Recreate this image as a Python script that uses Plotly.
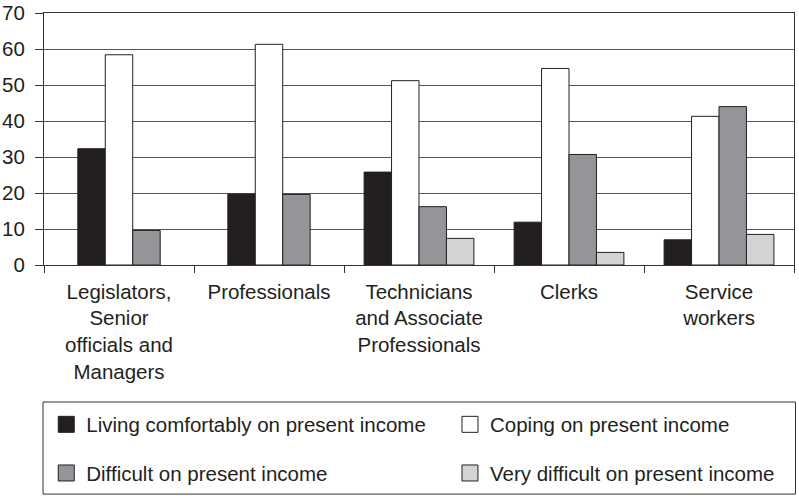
import plotly.graph_objects as go

categories = [
    "Legislators,<br>Senior<br>officials and<br>Managers",
    "Professionals",
    "Technicians<br>and Associate<br>Professionals",
    "Clerks",
    "Service<br>workers",
]
series_names = [
    "Living comfortably on present income",
    "Coping on present income",
    "Difficult on present income",
    "Very difficult on present income",
]
living = [32.3, 19.7, 25.8, 11.9, 7.0]
coping = [58.4, 61.3, 51.2, 54.6, 41.3]
difficult = [9.6, 19.6, 16.2, 30.7, 44.0]
very_difficult = [None, None, 7.4, 3.5, 8.5]
y_ticks = [0, 10, 20, 30, 40, 50, 60, 70]

series_values = [living, coping, difficult, very_difficult]
colors = ["#231f20", "#ffffff", "#939598", "#d1d3d4"]
edge = "#231f20"
FONT = "Liberation Sans, Arial, sans-serif"
FS = 20.5
bar_w = 0.183

fig = go.Figure()
for si, (name, vals, col) in enumerate(zip(series_names, series_values, colors)):
    offsets = []
    for ci in range(len(categories)):
        present = [k for k in range(len(series_values)) if series_values[k][ci] is not None]
        n = len(present)
        k = present.index(si) if si in present else 0
        offsets.append(-n * bar_w / 2 + k * bar_w)
    fig.add_trace(go.Bar(
        x=categories, y=vals, name=name, width=bar_w, offset=offsets,
        marker=dict(color=col, line=dict(color=edge, width=1)),
        showlegend=False,
    ))

# legend entries (one legend per entry for exact placement)
leg_pos = [(0.0030, -0.633), (0.5413, -0.633), (0.0030, -0.826), (0.5413, -0.826)]
leg_ids = ["legend", "legend2", "legend3", "legend4"]
for name, col, lid in zip(series_names, colors, leg_ids):
    fig.add_trace(go.Scatter(
        x=[None], y=[None], mode="markers", name=name, legend=lid,
        marker=dict(symbol="square", size=16, color=col, line=dict(color=edge, width=1)),
        showlegend=True,
    ))

legend_layouts = {}
for lid, (lx, ly) in zip(leg_ids, leg_pos):
    legend_layouts[lid] = dict(
        x=lx, y=ly, xanchor="left", yanchor="middle", orientation="h",
        font=dict(family=FONT, size=FS, color="#231f20"),
        bgcolor="rgba(0,0,0,0)", borderwidth=0,
    )

fig.update_layout(
    width=799, height=496,
    margin=dict(l=44, r=5, t=13, b=231, autoexpand=False),
    paper_bgcolor="white", plot_bgcolor="white",
    barmode="overlay",
    font=dict(family=FONT, size=FS, color="#231f20"),
    shapes=[dict(
        type="rect", xref="paper", yref="paper",
        x0=-0.0013, x1=1.0020, y0=-0.5437, y1=-0.909,
        line=dict(color="#333333", width=1), fillcolor="rgba(0,0,0,0)",
    )],
    **legend_layouts,
)
fig.update_xaxes(
    type="category", tickson="boundaries", ticks="outside", ticklen=7,
    tickcolor="#333333", showline=True, linecolor="#333333", linewidth=1,
    mirror=True, showgrid=False, ticklabelstandoff=8, automargin=False,
    tickfont=dict(family=FONT, size=FS, color="#231f20"),
)
fig.update_yaxes(
    range=[0, 70], tickvals=y_ticks, ticks="outside", ticklen=8,
    tickcolor="#333333", showline=True, linecolor="#333333", linewidth=1,
    mirror=True, showgrid=True, gridcolor="#555555", gridwidth=1,
    zeroline=False, ticklabelstandoff=6, automargin=False,
    tickfont=dict(family=FONT, size=FS, color="#231f20"),
)

fig.write_html("out.html")
